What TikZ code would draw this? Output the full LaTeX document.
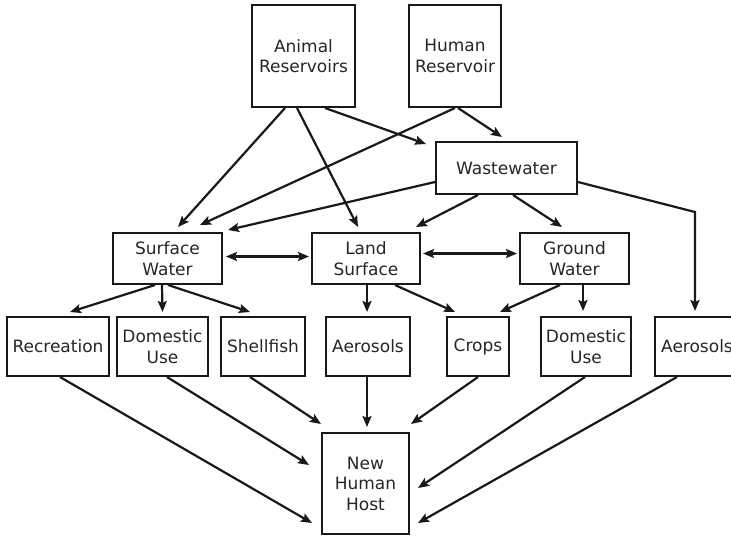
\documentclass[tikz,border=0pt]{standalone}
\usepackage{fontspec}
\setmainfont{DejaVu Sans}
\usetikzlibrary{arrows.meta,calc}

\tikzset{
  box/.style={draw=black!90, line width=2pt, align=center, inner sep=0pt,
              text=black!85, font=\fontsize{17}{20.5}\selectfont},
  flow/.style={line width=2.2pt, draw=black!90,
               -{Stealth[length=11pt,width=9pt,inset=2pt]}},
  twoway/.style={line width=2.2pt, draw=black!90,
               {Stealth[length=11pt,width=9pt,inset=2pt]}-{Stealth[length=11pt,width=9pt,inset=2pt]}}
}

\begin{document}
\begin{tikzpicture}[x=1pt,y=-1pt]
  \clip (0,0) rectangle (731,536);
  \fill[white] (0,0) rectangle (731,536);

  % sources
  \node[box, minimum width=103pt, minimum height=102pt] (ar) at (303.5,56) {Animal\\Reservoirs};
  \node[box, minimum width=92pt,  minimum height=102pt] (hr) at (455,56)   {Human\\Reservoir};
  \node[box, minimum width=141pt, minimum height=52pt]  (ww) at (506.5,168) {Wastewater};

  % environmental compartments
  \node[box, minimum width=109pt, minimum height=51pt] (sw) at (167.5,258.5) {Surface\\Water};
  \node[box, minimum width=108pt, minimum height=51pt] (ls) at (366,258.5)   {Land\\Surface};
  \node[box, minimum width=109pt, minimum height=51pt] (gw) at (574.5,258.5) {Ground\\Water};

  % exposure routes
  \node[box, minimum width=102pt, minimum height=59pt] (rec) at (58,346.5)  {Recreation};
  \node[box, minimum width=91pt,  minimum height=59pt] (du1) at (162.5,346.5) {Domestic\\Use};
  \node[box, minimum width=84pt,  minimum height=59pt] (sh)  at (263,346.5)  {Shellfish};
  \node[box, minimum width=84pt,  minimum height=59pt] (ae1) at (368,346.5)  {Aerosols};
  \node[box, minimum width=62pt,  minimum height=59pt] (cr)  at (478,346.5)  {Crops};
  \node[box, minimum width=90pt,  minimum height=59pt] (du2) at (586,346.5)  {Domestic\\Use};
  \node[box, minimum width=84pt,  minimum height=59pt] (ae2) at (697,346.5)  {Aerosols};

  % receptor
  \node[box, minimum width=87pt, minimum height=101pt] (nhh) at (365.5,483.5) {New\\Human\\Host};

  % reservoirs to compartments
  \draw[flow] ($(ar.south)+(-18.5,0)$) -- ($(sw.north)+(10.5,-5)$);
  \draw[flow] ($(ar.south)+(-6.5,0)$)  -- ($(ls.north)+(-8,-5)$);
  \draw[flow] ($(ar.south)+(21.5,0)$)  -- ($(ww.north west)+(-9,3)$);
  \draw[flow] ($(hr.south)+(3,0)$)     -- ($(ww.north)+(-4.5,-4)$);
  \draw[flow] (hr.south)               -- ($(sw.north)+(32.5,-7)$);

  % wastewater discharges
  \draw[flow] ($(ww.west)+(0,14)$)     -- ($(sw.north east)+(5,-2)$);
  \draw[flow] ($(ww.south)+(-28.5,0)$) -- ($(ls.north east)+(-5,-5)$);
  \draw[flow] ($(ww.south)+(6.5,0)$)   -- ($(gw.north)+(-12.5,-5)$);
  \coordinate (bend) at ($(ae2.north)+(-2,-104)$);
  \draw[flow] ($(ww.east)+(0,14)$) -- (bend) -- ($(ae2.north)+(-2,-5)$);

  % exchange between compartments
  \draw[twoway] ($(sw.east)+(3,-2)$) -- ($(ls.west)+(-2,-2)$);
  \draw[twoway] ($(ls.east)+(2,-5)$) -- ($(gw.west)+(-2,-5)$);

  % compartments to exposure routes
  \draw[flow] ($(sw.south)+(-12.5,0)$) -- ($(rec.north)+(12,-4)$);
  \draw[flow] ($(sw.south)+(-5.5,0)$)  -- ($(du1.north)+(0,-4)$);
  \draw[flow] ($(sw.south)+(0.5,0)$)   -- ($(sh.north)+(-13,-4)$);
  \draw[flow] ($(ls.south)+(1,0)$)     -- ($(ae1.north)+(-1,-4)$);
  \draw[flow] ($(ls.south)+(29,0)$)    -- ($(cr.north)+(-23,-4)$);
  \draw[flow] ($(gw.south)+(-14.5,0)$) -- ($(cr.north)+(22,-4)$);
  \draw[flow] ($(gw.south)+(8.5,0)$)   -- ($(du2.north)+(-3,-5)$);

  % exposure routes to the new host
  \draw[flow] ($(rec.south)+(2,0)$)   -- ($(nhh.west)+(-9,39.5)$);
  \draw[flow] ($(du1.south)+(4.5,0)$) -- ($(nhh.west)+(-12,-18.5)$);
  \draw[flow] ($(sh.south)+(-13,0)$)  -- ($(nhh.north west)+(0,-8)$);
  \draw[flow] ($(ae1.south)+(-1,0)$)  -- ($(nhh.north)+(1.5,-5)$);
  \draw[flow] (cr.south)              -- ($(nhh.north east)+(1,-8)$);
  \draw[flow] ($(du2.south)+(-1,0)$)  -- ($(nhh.east)+(8,4.5)$);
  \draw[flow] ($(ae2.south)+(-20,0)$) -- ($(nhh.east)+(8,39.5)$);
\end{tikzpicture}
\end{document}
